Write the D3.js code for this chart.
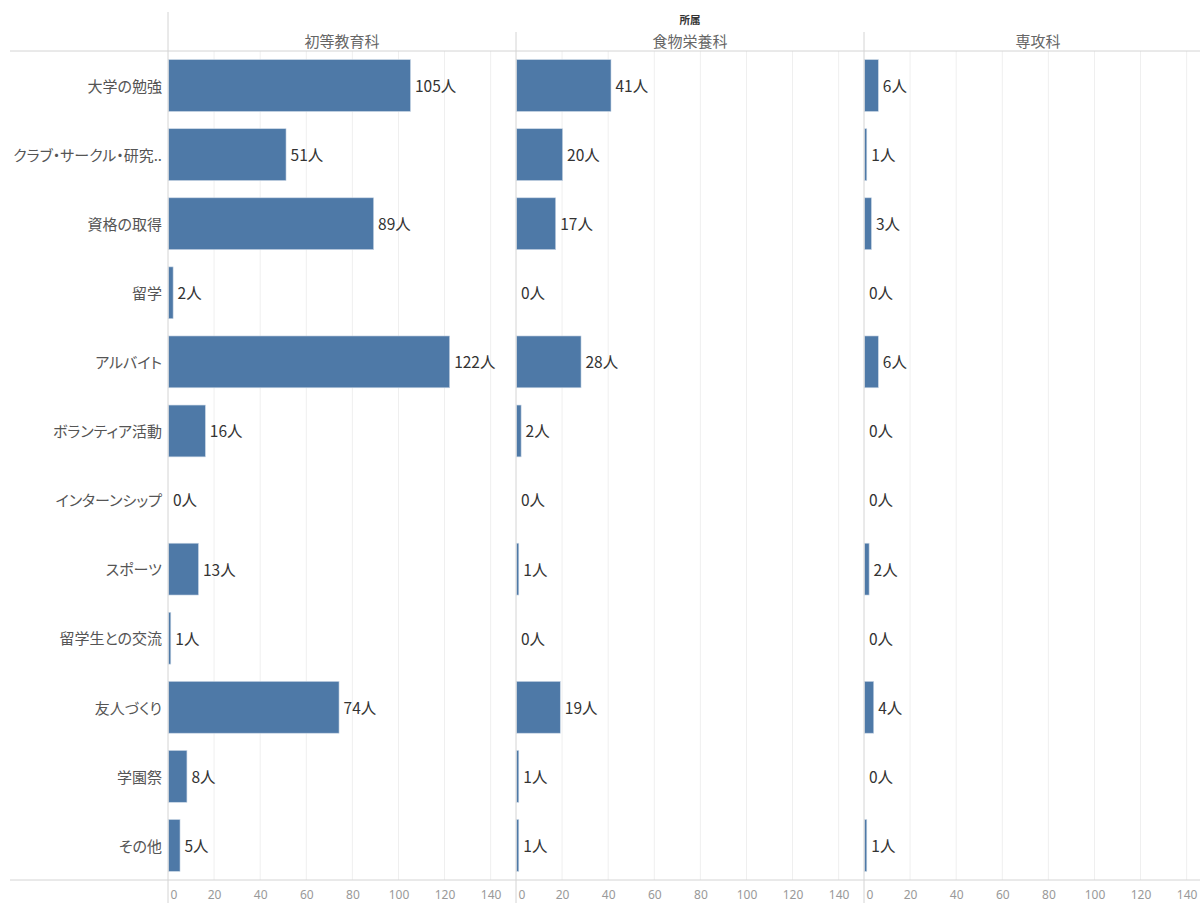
<!DOCTYPE html>
<html>
<head>
<meta charset="utf-8">
<script src="https://cdn.jsdelivr.net/npm/d3@7"></script>
<style>
  html, body { margin: 0; padding: 0; background: #fff; }
  svg { display: block; font-family: "Noto Sans CJK JP", "Noto Sans", sans-serif; }
  .rowlabel, .header { font-feature-settings: "palt"; }
</style>
</head>
<body>
<svg id="chart" width="1200" height="903"></svg>
<script>
// Activity categories (rows)
const categories = [
  "大学の勉強", "クラブ・サークル・研究..", "資格の取得", "留学", "アルバイト",
  "ボランティア活動", "インターンシップ", "スポーツ", "留学生との交流",
  "友人づくり", "学園祭", "その他"
];
// Departments (column panels)
const departments = ["初等教育科", "食物栄養科", "専攻科"];
// Counts per department, in category order
const shotoValues  = [105, 51, 89, 2, 122, 16, 0, 13, 1, 74, 8, 5];
const shokuValues  = [41, 20, 17, 0, 28, 2, 0, 1, 0, 19, 1, 1];
const senkoValues  = [6, 1, 3, 0, 6, 0, 0, 2, 0, 4, 0, 1];
const seriesValues = [shotoValues, shokuValues, senkoValues];
// Axis ticks
const tickValues = [0, 20, 40, 60, 80, 100, 120, 140];

const svg = d3.select("#chart");
const W = 1200, H = 903;
const plotLeft = 168, panelW = 348;
const plotTop = 51, plotBottom = 880;
const lineColor = "#d4d4d4";

const y = d3.scaleBand()
  .domain(categories)
  .range([plotTop, plotBottom])
  .paddingInner(0.25)
  .paddingOuter(0.125);

// Column header title
svg.append("text")
  .attr("x", 690).attr("y", 24)
  .attr("text-anchor", "middle")
  .attr("font-size", 10.5).attr("font-weight", "bold")
  .attr("fill", "#333")
  .text("所属");

departments.forEach((dep, i) => {
  const x0 = plotLeft + i * panelW;
  const x = d3.scaleLinear().domain([0, 151]).range([x0, x0 + panelW]);
  const g = svg.append("g");

  // Gridlines
  g.selectAll("line.grid")
    .data(tickValues.filter(t => t > 0))
    .join("line")
    .attr("x1", d => x(d)).attr("x2", d => x(d))
    .attr("y1", plotTop).attr("y2", plotBottom)
    .attr("stroke", "#efefef").attr("stroke-width", 1);

  // Panel header
  g.append("text")
    .attr("class", "header")
    .attr("x", x0 + panelW / 2).attr("y", 47)
    .attr("text-anchor", "middle")
    .attr("font-size", 15).attr("fill", "#666")
    .text(dep);

  // Bars
  const vals = seriesValues[i];
  g.selectAll("rect.bar")
    .data(categories.map((c, k) => ({ c, v: vals[k] })).filter(d => d.v > 0))
    .join("rect")
    .attr("x", x(0) + 0.5)
    .attr("y", d => y(d.c))
    .attr("width", d => Math.max(1, x(d.v) - x(0)))
    .attr("height", y.bandwidth())
    .attr("fill", "#4e79a7")
    .attr("stroke", "#c9d6e5").attr("stroke-width", 0.6);

  // Value labels
  g.selectAll("text.val")
    .data(categories.map((c, k) => ({ c, v: vals[k] })))
    .join("text")
    .attr("x", d => x(d.v) + 5)
    .attr("y", d => y(d.c) + y.bandwidth() / 2 + 1)
    .attr("dy", "0.35em")
    .attr("font-size", 15.5).attr("fill", "#333")
    .text(d => d.v + "人");

  // Bottom axis
  const axis = d3.axisBottom(x).tickValues(tickValues).tickSize(0).tickPadding(10);
  const ag = g.append("g").attr("transform", `translate(0,${plotBottom})`).call(axis);
  ag.select(".domain").remove();
  ag.selectAll("text")
    .attr("font-size", 12).attr("fill", "#999")
    .attr("font-family", "'Noto Sans', sans-serif")
    .attr("text-anchor", d => d === 0 ? "start" : "middle")
    .attr("dx", d => d === 0 ? 2 : 0);

  // Panel separator
  if (i > 0) {
    svg.append("line")
      .attr("x1", x0).attr("x2", x0).attr("y1", 32).attr("y2", H)
      .attr("stroke", lineColor).attr("stroke-width", 1);
  }
});

// Row labels
svg.append("g").selectAll("text")
  .data(categories)
  .join("text")
  .attr("class", "rowlabel")
  .attr("x", 162)
  .attr("y", d => y(d) + y.bandwidth() / 2 + 1)
  .attr("dy", "0.35em")
  .attr("text-anchor", "end")
  .attr("font-size", 15).attr("fill", "#555")
  .text(d => d);

// Frame lines
svg.append("line").attr("x1", 10).attr("x2", W).attr("y1", plotTop).attr("y2", plotTop)
  .attr("stroke", lineColor);
svg.append("line").attr("x1", 10).attr("x2", W).attr("y1", plotBottom).attr("y2", plotBottom)
  .attr("stroke", lineColor);
svg.append("line").attr("x1", plotLeft).attr("x2", plotLeft).attr("y1", 12).attr("y2", H)
  .attr("stroke", lineColor);
</script>
</body>
</html>
